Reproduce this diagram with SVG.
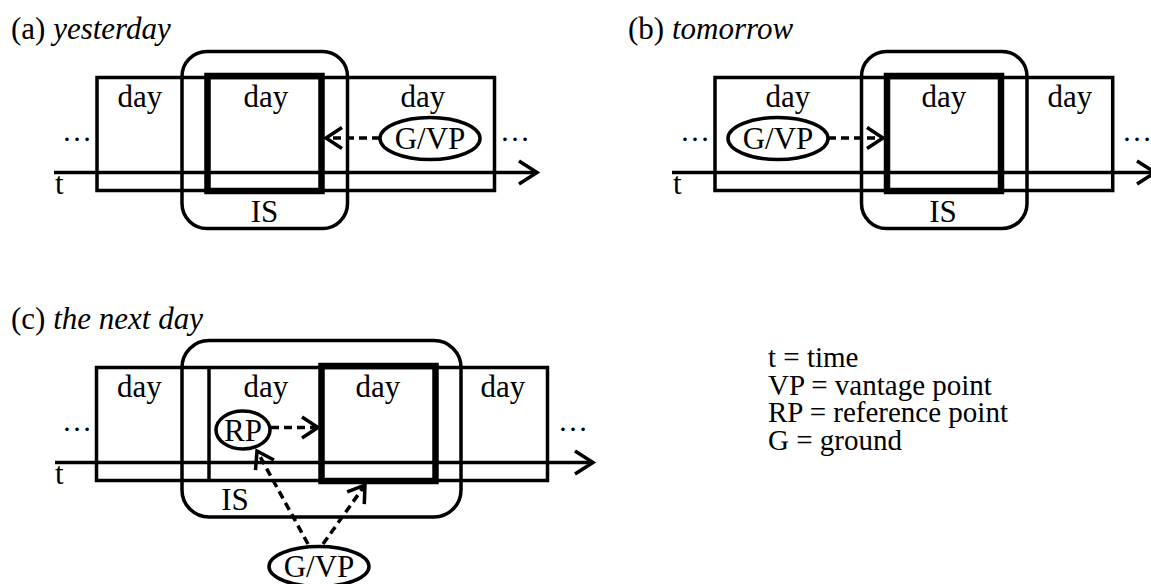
<svg xmlns="http://www.w3.org/2000/svg" width="1151" height="584" viewBox="0 0 1151 584">
<style>
text{font-family:"Liberation Serif","Times New Roman",serif;font-size:31px;fill:#000}
.c{text-anchor:middle}
.it{font-style:italic}
.dots{font-size:30px}
.thin{fill:none;stroke:#000;stroke-width:3.5}
.thick{fill:none;stroke:#000;stroke-width:6.5}
.dash{fill:none;stroke:#000;stroke-width:3.5;stroke-dasharray:8 5}
.axis{fill:none;stroke:#000;stroke-width:3.5}
.leg{font-size:29px}
</style>
<defs>
<marker id="ah" markerUnits="userSpaceOnUse" markerWidth="26" markerHeight="30" viewBox="-22 -15 26 30" refX="0" refY="0" orient="auto" overflow="visible">
<path d="M-16,-10.5 L0,0 L-16,10.5" fill="none" stroke="#000" stroke-width="3.5" stroke-dasharray="none"/>
</marker>
<marker id="axh" markerUnits="userSpaceOnUse" markerWidth="28" markerHeight="32" viewBox="-24 -16 28 32" refX="0" refY="0" orient="auto" overflow="visible">
<path d="M-18,-11.5 L0,0 L-18,11.5" fill="none" stroke="#000" stroke-width="3.5"/>
</marker>
</defs>

<!-- Panel (a) -->
<g id="panel-a">
<text x="11" y="38.5">(a) <tspan class="it">yesterday</tspan></text>
<g id="a-days">
<rect class="thin" x="97" y="77.5" width="397.5" height="113"/>
<text class="c" x="140" y="106.5">day</text>
<text class="c" x="423" y="106.5">day</text>
</g>
<g id="a-is">
<rect class="thin" x="182" y="51.5" width="165.5" height="177" rx="25" ry="25"/>
<text class="c" x="264.5" y="221.5">IS</text>
</g>
<g id="a-focus">
<rect class="thick" x="207.5" y="76" width="114" height="115"/>
<text class="c" x="266" y="106.5">day</text>
</g>
<g id="a-axis">
<line class="axis" x1="54" y1="172.5" x2="537" y2="172.5" marker-end="url(#axh)"/>
<text x="55" y="194">t</text>
<text class="dots" x="62" y="141">…</text>
<text class="dots" x="500" y="141">…</text>
</g>
<g id="a-gvp">
<ellipse class="thin" cx="430" cy="138.5" rx="50" ry="21"/>
<text class="c" x="430" y="149">G/VP</text>
</g>
</g>

<!-- Panel (b) -->
<g id="panel-b">
<text x="628" y="38.5">(b) <tspan class="it">tomorrow</tspan></text>
<g id="b-days">
<rect class="thin" x="715" y="77.5" width="397.7" height="113"/>
<text class="c" x="788" y="106.5">day</text>
<text class="c" x="1070" y="106.5">day</text>
</g>
<g id="b-is">
<rect class="thin" x="861.5" y="51.5" width="165.5" height="177" rx="25" ry="25"/>
<text class="c" x="943" y="221.5">IS</text>
</g>
<g id="b-focus">
<rect class="thick" x="887" y="76" width="114" height="115"/>
<text class="c" x="944" y="106.5">day</text>
</g>
<g id="b-axis">
<line class="axis" x1="672" y1="172.5" x2="1155" y2="172.5" marker-end="url(#axh)"/>
<text x="673" y="194">t</text>
<text class="dots" x="680" y="141">…</text>
<text class="dots" x="1122" y="141">…</text>
</g>
<g id="b-gvp">
<ellipse class="thin" cx="778" cy="138.5" rx="50" ry="21"/>
<text class="c" x="778" y="149">G/VP</text>
</g>
</g>

<!-- Panel (c) -->
<g id="panel-c">
<text x="11" y="329">(c) <tspan class="it">the next day</tspan></text>
<g id="c-days">
<rect class="thin" x="96.5" y="367.5" width="451" height="113"/>
<line class="thin" x1="209" y1="367.5" x2="209" y2="480.5"/>
<text class="c" x="139.5" y="396.5">day</text>
<text class="c" x="266" y="396.5">day</text>
<text class="c" x="503" y="396.5">day</text>
</g>
<g id="c-is">
<rect class="thin" x="182" y="340.5" width="279" height="176.5" rx="27" ry="27"/>
<text class="c" x="235" y="510">IS</text>
</g>
<g id="c-focus">
<rect class="thick" x="321.5" y="366" width="114" height="115"/>
<text class="c" x="378" y="396.5">day</text>
</g>
<g id="c-axis">
<line class="axis" x1="55" y1="462.5" x2="593" y2="462.5" marker-end="url(#axh)"/>
<text x="55" y="484">t</text>
<text class="dots" x="62" y="431">…</text>
<text class="dots" x="558" y="431">…</text>
</g>
<g id="c-rp">
<ellipse class="thin" cx="243" cy="430" rx="27" ry="19"/>
<text class="c" x="243" y="440.5">RP</text>
</g>
<g id="c-gvp">
<ellipse class="thin" cx="319" cy="566.5" rx="50" ry="20"/>
<text class="c" x="319" y="577">G/VP</text>
</g>
</g>

<!-- Connectors -->
<g id="connectors">
<line class="dash" x1="380" y1="138" x2="326" y2="138" marker-end="url(#ah)"/>
<line class="dash" x1="828" y1="138" x2="883" y2="138" marker-end="url(#ah)"/>
<line class="dash" x1="271" y1="427.5" x2="318" y2="427.5" marker-end="url(#ah)"/>
<line class="dash" x1="308" y1="544" x2="257" y2="451" marker-end="url(#ah)"/>
<line class="dash" x1="323" y1="544" x2="365" y2="485" marker-end="url(#ah)"/>
</g>

<!-- Legend -->
<g id="legend">
<text class="leg" x="768" y="367">t = time</text>
<text class="leg" x="768" y="394.5">VP = vantage point</text>
<text class="leg" x="768" y="422">RP = reference point</text>
<text class="leg" x="768" y="449.5">G = ground</text>
</g>
</svg>
